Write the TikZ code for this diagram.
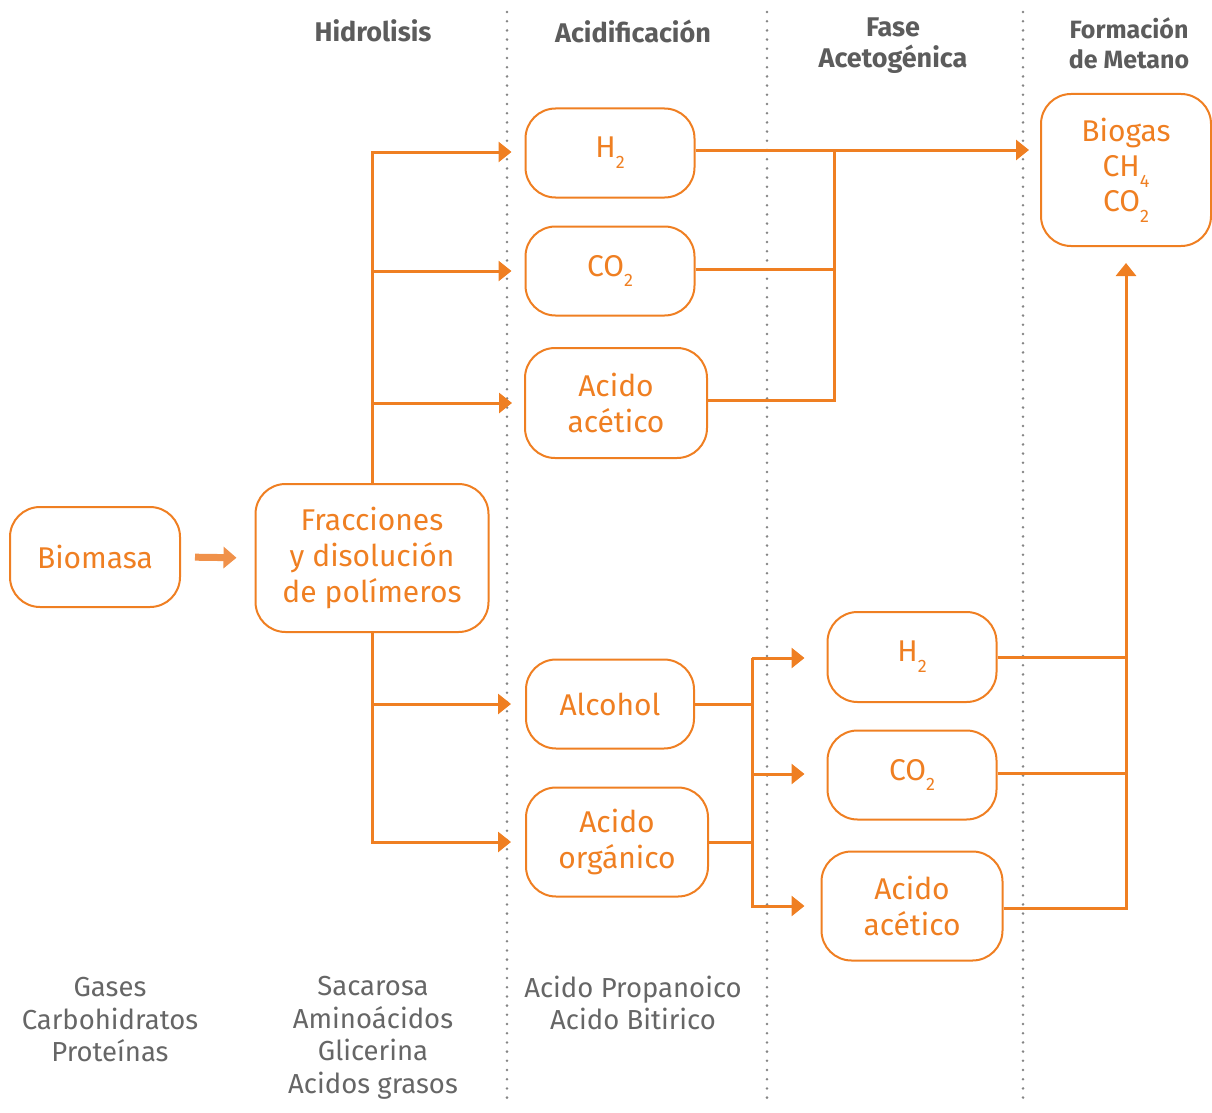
\documentclass[tikz,border=0pt]{standalone}
\usepackage{fontspec}
\setmainfont{Fira Sans}
\usetikzlibrary{arrows.meta}
\definecolor{orng}{HTML}{EF7F22}
\definecolor{orlt}{HTML}{F0914A}
\definecolor{headgray}{HTML}{5C5C5C}
\definecolor{txtgray}{HTML}{666666}
\definecolor{dotgray}{HTML}{858585}
\newcommand{\sub}[1]{\raisebox{-0.36em}{\fontsize{18}{18}\selectfont #1}}
\tikzset{
  proc/.style={draw=orng, line width=2pt, rounded corners=30pt, inner sep=0pt,
    text=orng, align=center, font=\fontsize{30}{36}\selectfont},
  link/.style={draw=orng, line width=3pt},
  arr/.style={link, -{Triangle[length=13pt,width=20pt]}},
  bigarr/.style={draw=orlt, line width=7pt, -{Triangle[length=13pt,width=21pt]}},
  phase/.style={text=headgray, font=\bfseries\fontsize{27}{31}\selectfont, align=center},
  note/.style={text=txtgray, font=\fontsize{27.5}{32.5}\selectfont, align=center},
  sep/.style={draw=dotgray, line width=2.8pt, line cap=round, dash pattern=on 0pt off 9.2pt}
}
\begin{document}
\begin{tikzpicture}[x=1pt,y=-1pt]
\useasboundingbox (0,0) rectangle (1212,1113);

% phase separators
\draw[sep] (507,12) -- (507,1104);
\draw[sep] (767,12) -- (767,1104);
\draw[sep] (1023,12) -- (1023,1104);

% phase titles
\node[phase] (tHid) at (373,31) {Hidrolisis};
\node[phase] (tAci) at (633,31) {Acidificación};
\node[phase] (tAce) at (893,46) {Fase\\Acetogénica};
\node[phase, font=\bfseries\fontsize{25}{30}\selectfont] (tMet) at (1129,43) {Formación\\de Metano};

% process boxes
\node[proc, minimum width=170pt, minimum height=100pt] (bio) at (95,557) {Biomasa};
\node[proc, minimum width=233pt, minimum height=148pt] (frac) at (372,558) {Fracciones\\y disolución\\de polímeros};

\node[proc, minimum width=169pt, minimum height=89pt] (h2a) at (610,153) {H\sub{2}};
\node[proc, minimum width=169pt, minimum height=89pt] (co2a) at (610,271) {CO\sub{2}};
\node[proc, minimum width=182pt, minimum height=110pt] (aca) at (616,403) {Acido\\acético};
\node[proc, minimum width=168pt, minimum height=89pt] (alc) at (610,704) {Alcohol};
\node[proc, minimum width=182pt, minimum height=109pt] (org) at (617,842) {Acido\\orgánico};

\node[proc, minimum width=169pt, minimum height=90pt] (h2b) at (912,657) {H\sub{2}};
\node[proc, minimum width=169pt, minimum height=89pt] (co2b) at (912,775) {CO\sub{2}};
\node[proc, minimum width=181pt, minimum height=109pt] (acb) at (912,906) {Acido\\acético};

\node[proc, minimum width=170pt, minimum height=152pt, font=\fontsize{30}{35}\selectfont] (gas) at (1126,170) {Biogas\\CH\sub{4}\\CO\sub{2}};

% bottom notes
\node[note] (nGas) at (110,1020) {Gases\\Carbohidratos\\Proteínas};
\node[note] (nSac) at (373,1038) {Sacarosa\\Aminoácidos\\Glicerina\\Acidos grasos};
\node[note] (nPro) at (633,1003) {Acido Propanoico\\Acido Bitirico};

% bus positions
\coordinate (busA) at (834,153);
\coordinate (busB) at (752,704);

% biomass to hydrolysis
\draw[bigarr, shorten <=14pt, shorten >=18pt] (bio.east) -- (frac.west);

% hydrolysis fan-out
\draw[arr, shorten >=13pt] ([yshift=1pt]frac.north) |- ([yshift=1pt]h2a.west);
\draw[arr, shorten >=13pt] (frac.north) |- (co2a.west);
\draw[arr, shorten >=12pt] (frac.north) |- (aca.west);
\draw[arr, shorten >=14pt] (frac.south) |- (alc.west);
\draw[arr, shorten >=14pt] (frac.south) |- (org.west);

% upper products to biogas
\draw[arr, shorten >=11pt] ([yshift=3pt]h2a.east) -- ([yshift=3pt]h2a.east -| gas.west);
\draw[link] ([yshift=2pt]co2a.east) -- ([yshift=2pt]co2a.east -| busA);
\draw[link] ([yshift=3pt]aca.east) -| ([yshift=3pt]busA);

% acetogenic stage
\draw[link] (alc.east) -- (alc.east -| busB);
\draw[link] (org.east) -- (org.east -| busB);
\draw[link] ([yshift=-0.5pt]busB |- h2b.west) -- ([yshift=-1.5pt]busB |- acb.west);
\draw[arr, shorten >=22pt] ([yshift=-1pt]busB |- h2b.west) -- ([yshift=-1pt]h2b.west);
\draw[arr, shorten >=22pt] ([yshift=1pt]busB |- co2b.west) -- ([yshift=1pt]co2b.west);
\draw[arr, shorten >=16pt] (busB |- acb.west) -- (acb.west);

% acetogenic products to biogas
\draw[link] (h2b.east) -- (h2b.east -| gas.south);
\draw[link] ([yshift=2pt]co2b.east) -- ([yshift=2pt]co2b.east -| gas.south);
\draw[link] ([yshift=-2pt]acb.east) -- ([yshift=-2pt]acb.east -| gas.south);
\draw[arr, shorten >=16pt] ([yshift=-3.5pt]acb.east -| gas.south) -- (gas.south);
\end{tikzpicture}
\end{document}
